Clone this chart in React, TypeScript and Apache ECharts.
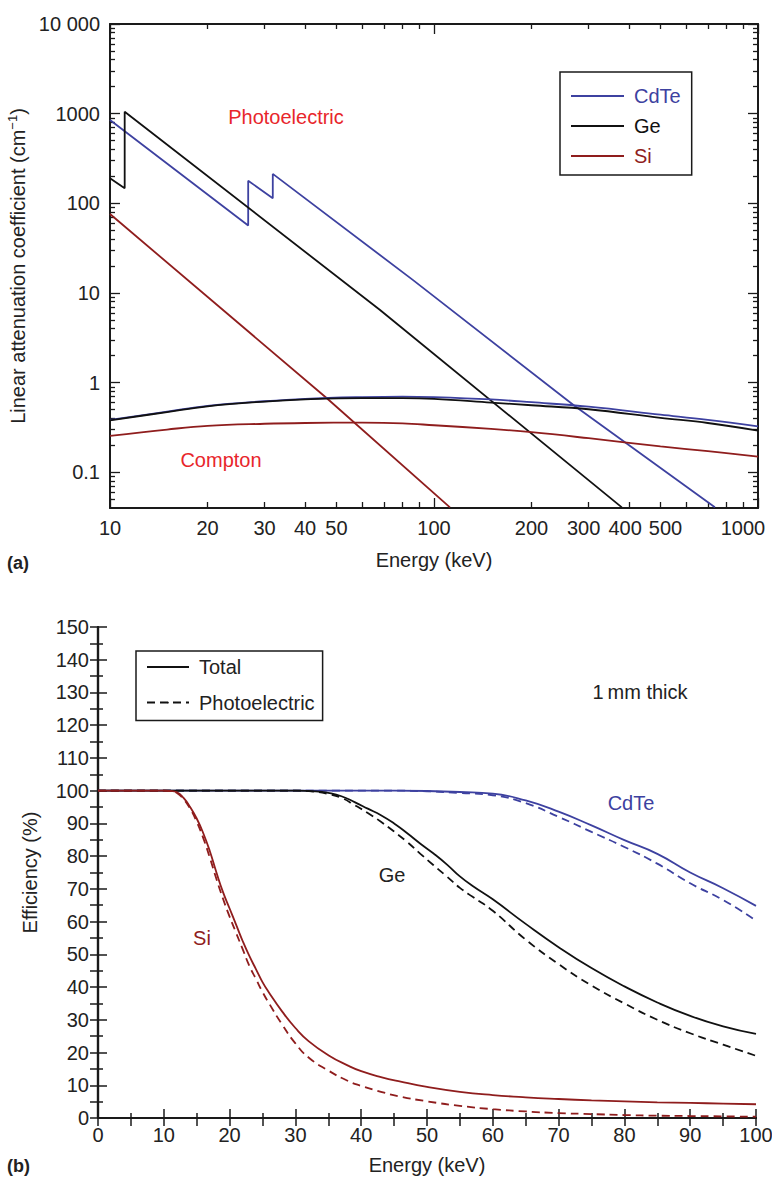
import React, { useEffect, useRef } from 'react';
import * as echarts from 'echarts';

const FONT = '"Liberation Sans", Arial, Helvetica, sans-serif';
const BLUE = '#3d41a0';
const DARKRED = '#8f1d1d';
const RED = '#e8262b';
const BLACK = '#111111';
const AXIS = '#1a1a1a';

// ---------- Panel (a): linear attenuation coefficient ----------
const cdtePhotoE = [10, 26.7, 26.7, 31.8, 31.8, 86, 270, 736];
const cdtePhotoMu = [850, 56.5, 179, 114, 213, 14, 0.56, 0.0407];
const gePhotoE = [10, 11.1, 11.1, 68, 380];
const gePhotoMu = [190, 147, 1050, 6.5, 0.0407];
const siPhotoE = [10, 46.7, 112];
const siPhotoMu = [76, 0.67, 0.0407];

const comptonE = [10, 15, 20, 30, 40, 60, 80, 100, 150, 200, 300, 500, 700, 1000];
const cdteCompton = [0.385, 0.475, 0.55, 0.62, 0.66, 0.69, 0.7, 0.69, 0.65, 0.605, 0.54, 0.44, 0.385, 0.325];
const geCompton = [0.38, 0.47, 0.545, 0.615, 0.65, 0.672, 0.672, 0.66, 0.6, 0.56, 0.505, 0.405, 0.355, 0.292];
const siCompton = [0.255, 0.3, 0.33, 0.348, 0.355, 0.358, 0.352, 0.335, 0.305, 0.28, 0.24, 0.195, 0.172, 0.15];

const topXLabelTicks = [10, 20, 30, 40, 50, 100, 200, 300, 400, 500, 1000];
const topXLabels = ['10', '20', '30', '40', '50', '100', '200', '{l|300}', '{m|400}', '{r|500}', '{e|1000}'];
const topXMajor = [10, 100, 1000];
const topXMinor = [20, 30, 40, 50, 60, 70, 80, 90, 200, 300, 400, 500, 600, 700, 800, 900];
const topYTicks = [0.1, 1, 10, 100, 1000, 10000];
const topYLabels = ['0.1', '1', '10', '100', '1000', '10 000'];
const topYMinor = [
  0.05, 0.06, 0.07, 0.08, 0.09,
  0.2, 0.3, 0.4, 0.5, 0.6, 0.7, 0.8, 0.9,
  2, 3, 4, 5, 6, 7, 8, 9,
  20, 30, 40, 50, 60, 70, 80, 90,
  200, 300, 400, 500, 600, 700, 800, 900,
  2000, 3000, 4000, 5000, 6000, 7000, 8000, 9000,
];

// ---------- Panel (b): efficiency, 1 mm thick ----------
const cdteEffE = [0, 45, 50, 55, 60, 65, 70, 75, 80, 85, 90, 95, 100];
const cdteTotal = [100, 100, 99.9, 99.6, 99.1, 97, 93.6, 89.4, 84.9, 80.7, 75, 70.2, 64.8];
const cdtePhoto = [100, 100, 99.8, 99.3, 98.6, 96.2, 92, 87.4, 82.8, 77.7, 71.7, 66.6, 60.3];

const geEffE = [0, 30, 33, 35, 37, 39, 41, 43, 45, 47, 49, 51, 53, 55, 57, 60, 65, 70, 75, 80, 85, 90, 95, 100];
const geTotal = [100, 100, 99.8, 99.3, 98.3, 96.5, 94.5, 92.5, 90, 87, 83.8, 80.8, 77.5, 73.8, 70.8, 66.8, 59.3, 52.2, 45.8, 40.2, 35.3, 31.2, 28.0, 25.7];
const gePhoto = [100, 100, 99.7, 99, 97.8, 95.6, 93.2, 90.5, 87.5, 84.3, 80.7, 77.2, 73.8, 70.3, 67.5, 63.3, 54.5, 47, 40.5, 35, 30, 25.9, 22.4, 19.0];

const siEffE = [0, 10, 11, 12, 13, 14, 15, 16, 17, 18, 19, 20, 21, 22, 23, 24, 25, 26, 28, 30, 32, 35, 38, 40, 43, 46, 50, 55, 60, 65, 70, 75, 80, 85, 90, 95, 100];
const siTotal = [100, 100, 99.9, 99.5, 97.8, 95, 91.5, 87, 81.5, 75, 69, 64, 59, 54, 49.5, 45.5, 41.5, 38.3, 32.5, 27.5, 23.5, 19.2, 16, 14.3, 12.5, 11.1, 9.5, 8.0, 7.0, 6.3, 5.8, 5.4, 5.1, 4.8, 4.6, 4.4, 4.2];
const siPhoto = [100, 100, 99.9, 99.3, 97.4, 94.5, 90.5, 85.5, 79.5, 73, 67, 61.5, 56.5, 51.5, 46.5, 42.5, 38.5, 35, 28.5, 22.8, 18.5, 14.5, 11.3, 9.8, 8, 6.5, 5.1, 3.7, 2.7, 2.0, 1.5, 1.2, 0.9, 0.7, 0.6, 0.5, 0.4];

const zip = (xs: number[], ys: number[]) => xs.map((x, i) => [x, ys[i]]);

const lookupLabel = (ticks: number[], labels: string[]) => (v: number) => {
  let best = 0;
  let bestD = Infinity;
  ticks.forEach((t, i) => {
    const d = Math.abs(Math.log10(t) - Math.log10(v));
    if (d < bestD) { bestD = d; best = i; }
  });
  return labels[best];
};

const noSplit = { splitLine: { show: false }, minorSplitLine: { show: false } };

function logXAxis(gridIndex: number, position: string, ticks: number[], len: number, showLine: boolean, extra: any = {}) {
  return {
    type: 'log', gridIndex, position, min: 10, max: 1000,
    axisLine: { show: showLine, lineStyle: { color: AXIS, width: 2 } },
    axisTick: { show: true, inside: true, length: len, customValues: ticks, lineStyle: { color: AXIS, width: 1.3 } },
    axisLabel: { show: false },
    ...noSplit,
    ...extra,
  };
}

function logYAxis(gridIndex: number, position: string, ticks: number[], len: number, showLine: boolean, extra: any = {}) {
  return {
    type: 'log', gridIndex, position, min: 0.04, max: 10000,
    axisLine: { show: showLine, lineStyle: { color: AXIS, width: 2 } },
    axisTick: { show: true, inside: true, length: len, customValues: ticks, lineStyle: { color: AXIS, width: 1.3 } },
    axisLabel: { show: false },
    ...noSplit,
    ...extra,
  };
}

const labelStyle = { color: '#222', fontSize: 20, fontFamily: FONT };
const richShift = {
  l: { ...labelStyle, padding: [0, 10, 0, 0] },
  m: { ...labelStyle, padding: [0, 8, 0, 0] },
  r: { ...labelStyle, padding: [0, 0, 0, 10] },
  e: { ...labelStyle, padding: [0, 30, 0, 0] },
};

const option: any = {
  animation: false,
  textStyle: { fontFamily: FONT },
  grid: [
    { left: 110, top: 24, width: 648, height: 484, outerBoundsMode: 'none', containLabel: false },
    { left: 98, top: 627, width: 658, height: 491, outerBoundsMode: 'none', containLabel: false },
  ],
  xAxis: [
    logXAxis(0, 'bottom', topXMajor, 10, true, {
      axisLabel: {
        show: true, customValues: topXLabelTicks, margin: 10, ...labelStyle,
        formatter: lookupLabel(topXLabelTicks, topXLabels),
        rich: richShift,
      },
      name: 'Energy (keV)', nameLocation: 'middle', nameGap: 42,
      nameTextStyle: { ...labelStyle },
    }),
    logXAxis(0, 'bottom', topXMinor, 6, false),
    logXAxis(0, 'top', topXMajor, 10, true),
    logXAxis(0, 'top', topXMinor, 5, false),
    {
      type: 'value', gridIndex: 1, position: 'bottom', min: 0, max: 100, interval: 10,
      axisLine: { show: true, lineStyle: { color: AXIS, width: 2.2 } },
      axisTick: { show: true, inside: true, length: 9, lineStyle: { color: AXIS, width: 1.5 } },
      minorTick: { show: true, splitNumber: 2, length: 5, lineStyle: { color: AXIS, width: 1.5 } },
      axisLabel: { show: true, margin: 7, ...labelStyle },
      name: 'Energy (keV)', nameLocation: 'middle', nameGap: 37,
      nameTextStyle: { ...labelStyle },
      ...noSplit,
    },
    {
      type: 'value', gridIndex: 1, position: 'top', min: 0, max: 100, interval: 5,
      axisLine: { show: true, lineStyle: { color: AXIS, width: 2.2 } },
      axisTick: { show: true, inside: true, length: 8, lineStyle: { color: AXIS, width: 1.5 } },
      axisLabel: { show: false },
      ...noSplit,
    },
  ],
  yAxis: [
    logYAxis(0, 'left', topYTicks, 10, true, {
      axisLabel: {
        show: true, customValues: topYTicks, margin: 10, ...labelStyle,
        formatter: lookupLabel(topYTicks, topYLabels),
      },
      name: 'Linear attenuation coefficient (cm{sup|\u22121})', nameLocation: 'middle', nameGap: 78,
      nameTextStyle: {
        ...labelStyle,
        rich: { sup: { fontSize: 13, fontFamily: FONT, color: '#222', padding: [0, 0, 10, 0] } },
      },
    }),
    logYAxis(0, 'left', topYMinor, 5, false),
    logYAxis(0, 'right', topYTicks, 10, true),
    logYAxis(0, 'right', topYMinor, 5, false),
    {
      type: 'value', gridIndex: 1, position: 'left', min: 0, max: 150, interval: 10,
      axisLine: { show: true, lineStyle: { color: AXIS, width: 2.2 } },
      axisTick: { show: true, inside: true, length: 9, lineStyle: { color: AXIS, width: 1.5 } },
      minorTick: { show: true, splitNumber: 2, length: 5, lineStyle: { color: AXIS, width: 1.5 } },
      axisLabel: { show: true, margin: 9, ...labelStyle },
      name: 'Efficiency (%)', nameLocation: 'middle', nameGap: 58,
      nameTextStyle: { ...labelStyle },
      ...noSplit,
    },
    {
      type: 'value', gridIndex: 1, position: 'right', min: 0, max: 150, interval: 5,
      axisLine: { show: true, lineStyle: { color: AXIS, width: 2.2 } },
      axisTick: { show: true, inside: true, length: 8, lineStyle: { color: AXIS, width: 1.5 } },
      axisLabel: { show: false },
      ...noSplit,
    },
  ],
  legend: [
    {
      data: [
        { name: 'CdTe', textStyle: { color: BLUE } },
        { name: 'Ge', textStyle: { color: BLACK } },
        { name: 'Si', textStyle: { color: DARKRED } },
      ],
      orient: 'vertical', left: 560, top: 72,
      itemWidth: 53, itemHeight: 2, itemGap: 10,
      borderColor: AXIS, borderWidth: 1.5, borderRadius: 0,
      padding: [14, 11, 9, 10],
      selectedMode: false,
      textStyle: { fontSize: 20, lineHeight: 20, fontFamily: FONT, padding: [0, 0, 0, 5] },
    },
    {
      data: [
        { name: 'Total', textStyle: { color: '#222' } },
        { name: 'Photoelectric', textStyle: { color: '#222' } },
      ],
      orient: 'vertical', left: 136, top: 651,
      itemWidth: 42, itemHeight: 2, itemGap: 15.6,
      borderColor: AXIS, borderWidth: 1.5, borderRadius: 0,
      padding: [6, 8, 8, 10],
      selectedMode: false,
      textStyle: { fontSize: 20, lineHeight: 20, fontFamily: FONT, padding: [0, 0, 0, 5] },
    },
  ],
  series: [
    // panel (a) photoelectric
    { name: 'CdTe', type: 'line', xAxisIndex: 0, yAxisIndex: 0, data: zip(cdtePhotoE, cdtePhotoMu), symbol: 'none', lineStyle: { color: BLUE, width: 1.8 }, itemStyle: { color: BLUE } },
    { name: 'Ge', type: 'line', xAxisIndex: 0, yAxisIndex: 0, data: zip(gePhotoE, gePhotoMu), symbol: 'none', lineStyle: { color: BLACK, width: 1.8 }, itemStyle: { color: BLACK } },
    { name: 'Si', type: 'line', xAxisIndex: 0, yAxisIndex: 0, data: zip(siPhotoE, siPhotoMu), symbol: 'none', lineStyle: { color: DARKRED, width: 1.8 }, itemStyle: { color: DARKRED } },
    // panel (a) Compton
    { name: 'CdTe', type: 'line', xAxisIndex: 0, yAxisIndex: 0, data: zip(comptonE, cdteCompton), smooth: 0.4, symbol: 'none', lineStyle: { color: BLUE, width: 1.8 }, itemStyle: { color: BLUE } },
    { name: 'Ge', type: 'line', xAxisIndex: 0, yAxisIndex: 0, data: zip(comptonE, geCompton), smooth: 0.4, symbol: 'none', lineStyle: { color: BLACK, width: 1.8 }, itemStyle: { color: BLACK } },
    { name: 'Si', type: 'line', xAxisIndex: 0, yAxisIndex: 0, data: zip(comptonE, siCompton), smooth: 0.4, symbol: 'none', lineStyle: { color: DARKRED, width: 1.8 }, itemStyle: { color: DARKRED } },
    // panel (b) legend keys
    { name: 'Total', type: 'line', xAxisIndex: 4, yAxisIndex: 4, data: [], symbol: 'none', lineStyle: { color: BLACK, width: 1.8 }, itemStyle: { color: BLACK } },
    { name: 'Photoelectric', type: 'line', xAxisIndex: 4, yAxisIndex: 4, data: [], symbol: 'none', lineStyle: { color: BLACK, width: 1.8, type: [8, 5] }, itemStyle: { color: BLACK } },
    // panel (b) efficiency
    { name: 'CdTe total', type: 'line', xAxisIndex: 4, yAxisIndex: 4, data: zip(cdteEffE, cdteTotal), smooth: 0.5, symbol: 'none', lineStyle: { color: BLUE, width: 1.8 } },
    { name: 'CdTe photoelectric', type: 'line', xAxisIndex: 4, yAxisIndex: 4, data: zip(cdteEffE, cdtePhoto), smooth: 0.5, symbol: 'none', lineStyle: { color: BLUE, width: 1.8, type: [8, 5] } },
    { name: 'Ge total', type: 'line', xAxisIndex: 4, yAxisIndex: 4, data: zip(geEffE, geTotal), smooth: 0.5, symbol: 'none', lineStyle: { color: BLACK, width: 1.8 } },
    { name: 'Ge photoelectric', type: 'line', xAxisIndex: 4, yAxisIndex: 4, data: zip(geEffE, gePhoto), smooth: 0.5, symbol: 'none', lineStyle: { color: BLACK, width: 1.8, type: [8, 5] } },
    { name: 'Si total', type: 'line', xAxisIndex: 4, yAxisIndex: 4, data: zip(siEffE, siTotal), smooth: 0.5, symbol: 'none', lineStyle: { color: DARKRED, width: 1.8 } },
    { name: 'Si photoelectric', type: 'line', xAxisIndex: 4, yAxisIndex: 4, data: zip(siEffE, siPhoto), smooth: 0.5, symbol: 'none', lineStyle: { color: DARKRED, width: 1.8, type: [8, 5] } },
  ],
  graphic: [
    { type: 'text', x: 286, y: 117, style: { text: 'Photoelectric', fill: RED, fontSize: 20, fontFamily: FONT, align: 'center', verticalAlign: 'middle' } },
    { type: 'text', x: 221, y: 460, style: { text: 'Compton', fill: RED, fontSize: 20, fontFamily: FONT, align: 'center', verticalAlign: 'middle' } },
    { type: 'text', x: 7, y: 563, style: { text: '(a)', fill: '#222', fontSize: 18, fontWeight: 'bold', fontFamily: FONT, align: 'left', verticalAlign: 'middle' } },
    { type: 'text', x: 640, y: 692, style: { text: '1\u2009mm thick', fill: '#222', fontSize: 20, fontFamily: FONT, align: 'center', verticalAlign: 'middle' } },
    { type: 'text', x: 631, y: 803, style: { text: 'CdTe', fill: BLUE, fontSize: 20, fontFamily: FONT, align: 'center', verticalAlign: 'middle' } },
    { type: 'text', x: 392, y: 875, style: { text: 'Ge', fill: '#222', fontSize: 20, fontFamily: FONT, align: 'center', verticalAlign: 'middle' } },
    { type: 'text', x: 202, y: 938, style: { text: 'Si', fill: DARKRED, fontSize: 20, fontFamily: FONT, align: 'center', verticalAlign: 'middle' } },
    { type: 'text', x: 7, y: 1166, style: { text: '(b)', fill: '#222', fontSize: 18, fontWeight: 'bold', fontFamily: FONT, align: 'left', verticalAlign: 'middle' } },
  ],
};

export default function App() {
  const ref = useRef<HTMLDivElement>(null);
  useEffect(() => {
    document.body.style.margin = '0';
    const chart = echarts.init(ref.current as HTMLDivElement, null, { renderer: 'svg' });
    chart.setOption(option);
    return () => chart.dispose();
  }, []);
  return <div ref={ref} style={{ width: 772, height: 1179 }} />;
}
